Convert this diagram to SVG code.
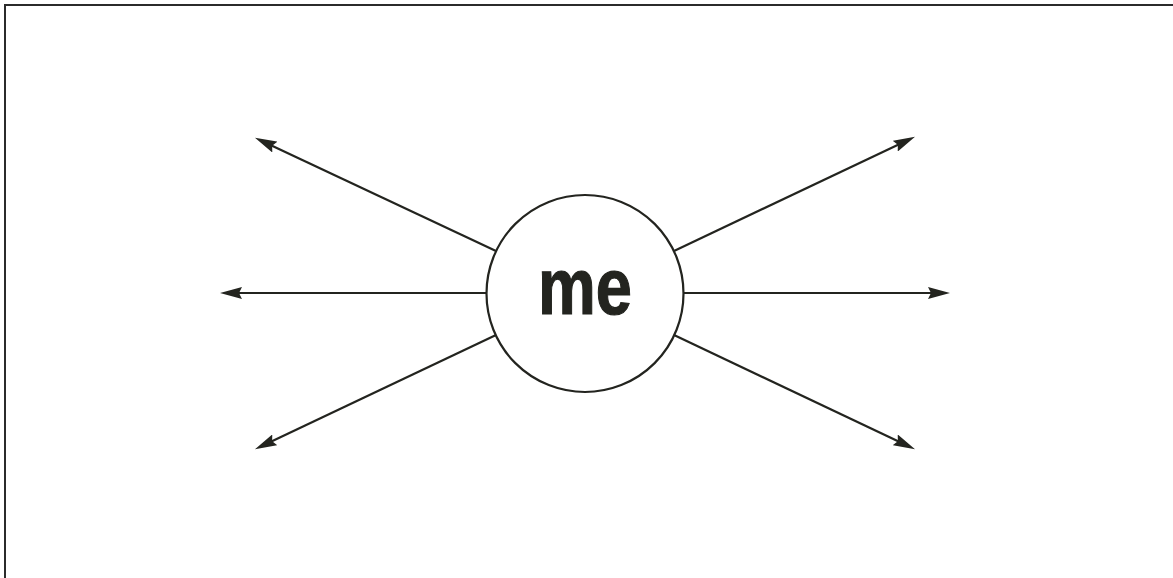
<svg xmlns="http://www.w3.org/2000/svg" width="1173" height="578" viewBox="0 0 1173 578">
  <style>
    .frame { fill: none; stroke: #2b2b2b; stroke-width: 2; }
    .node { fill: #ffffff; stroke: #23241f; stroke-width: 2.2; }
    .label { font-family: "Liberation Sans", Arial, sans-serif; font-weight: bold; font-size: 80px; fill: #23241f; stroke: #23241f; stroke-width: 1.2; }
    .conn { stroke: #23241f; stroke-width: 2.2; fill: none; marker-end: url(#arrow); }
  </style>
  <defs>
    <marker id="arrow" viewBox="0 0 22 12" refX="12" refY="6" markerWidth="22" markerHeight="12" markerUnits="userSpaceOnUse" orient="auto">
      <path d="M0,0 L22,6 L0,12 L3,6 z" fill="#23241f"/>
    </marker>
  </defs>
  <rect class="frame" x="5" y="5" width="1200" height="600"/>
  <g id="connectors">
    <line class="conn" x1="486" y1="293" x2="230" y2="293"/>
    <line class="conn" x1="684" y1="293" x2="940" y2="293"/>
    <line class="conn" x1="496" y1="251" x2="264" y2="142"/>
    <line class="conn" x1="674" y1="251" x2="906" y2="141"/>
    <line class="conn" x1="496" y1="335" x2="264" y2="445"/>
    <line class="conn" x1="674" y1="335" x2="906" y2="445"/>
  </g>
  <g id="node-me">
    <circle class="node" cx="585" cy="293.5" r="98.5"/>
    <text class="label" x="585" y="314" text-anchor="middle" textLength="94" lengthAdjust="spacingAndGlyphs">me</text>
  </g>
</svg>
